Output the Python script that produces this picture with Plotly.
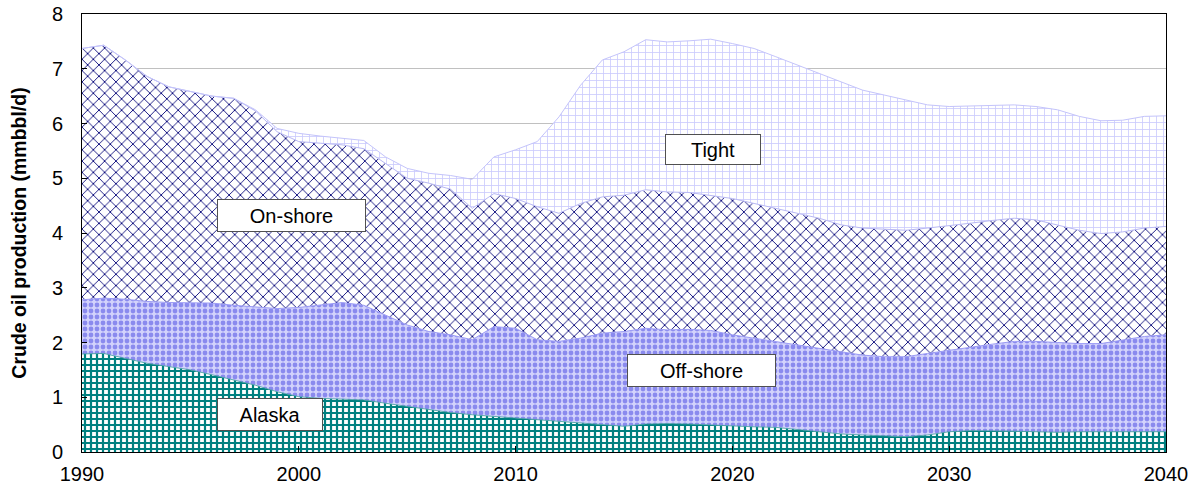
import plotly.graph_objects as go

years = list(range(1990, 2041))

alaska = [1.79, 1.80, 1.71, 1.62, 1.56, 1.50, 1.41, 1.32, 1.22, 1.10,
          1.01, 0.98, 0.96, 0.95, 0.89, 0.83, 0.77, 0.72, 0.68, 0.65,
          0.61, 0.58, 0.55, 0.52, 0.49, 0.47, 0.51, 0.52, 0.51, 0.49,
          0.47, 0.46, 0.45, 0.41, 0.38, 0.33, 0.31, 0.29, 0.28, 0.31,
          0.37, 0.39, 0.39, 0.38, 0.37, 0.36, 0.37, 0.37, 0.37, 0.37,
          0.37]

offshore = [0.99, 1.01, 1.08, 1.13, 1.17, 1.23, 1.31, 1.36, 1.43, 1.52,
            1.63, 1.71, 1.77, 1.73, 1.61, 1.49, 1.43, 1.42, 1.37, 1.64,
            1.65, 1.47, 1.47, 1.56, 1.68, 1.73, 1.75, 1.71, 1.73, 1.73,
            1.67, 1.62, 1.57, 1.54, 1.51, 1.50, 1.46, 1.45, 1.46, 1.49,
            1.49, 1.53, 1.58, 1.64, 1.65, 1.64, 1.61, 1.61, 1.68, 1.74,
            1.77]

onshore = [4.59, 4.62, 4.37, 4.11, 3.94, 3.85, 3.78, 3.78, 3.58, 3.23,
           3.03, 2.95, 2.88, 2.86, 2.77, 2.68, 2.71, 2.66, 2.40, 2.43,
           2.37, 2.43, 2.34, 2.46, 2.49, 2.49, 2.53, 2.52, 2.50, 2.47,
           2.49, 2.46, 2.43, 2.41, 2.38, 2.32, 2.32, 2.33, 2.31, 2.29,
           2.27, 2.26, 2.26, 2.25, 2.22, 2.15, 2.07, 2.01, 1.97, 1.98,
           1.98]

tight = [0.00, 0.00, 0.00, 0.00, 0.00, 0.00, 0.00, 0.00, 0.02, 0.06,
         0.15, 0.13, 0.12, 0.15, 0.12, 0.18, 0.18, 0.25, 0.53, 0.67,
         0.89, 1.19, 1.76, 2.16, 2.50, 2.62, 2.74, 2.74, 2.77, 2.85,
         2.83, 2.83, 2.77, 2.71, 2.65, 2.61, 2.52, 2.45, 2.38, 2.25,
         2.18, 2.14, 2.10, 2.07, 2.07, 2.10, 2.08, 2.06, 2.04, 2.04,
         2.02]

# label boxes: text, x (year), y (mmbbl/d), box width, box height
labels = ["Alaska", "Off-shore", "On-shore", "Tight"]
label_x = [1998.67, 2018.57, 1999.66, 2019.1]
label_y = [0.685, 1.49, 4.32, 5.52]
label_w = [102, 145, 145, 92]
label_h = [29, 29, 29, 27]

FONT = "Arial, Liberation Sans, sans-serif"

fig = go.Figure()

fig.add_trace(go.Scatter(
    x=years, y=alaska, name="Alaska", stackgroup="one", mode="lines",
    line=dict(color="#3a9a9a", width=0.8),
    fillpattern=dict(shape="+", fgcolor="#008080", bgcolor="#ffffff",
                     size=6, solidity=0.6, fillmode="replace")))

fig.add_trace(go.Scatter(
    x=years, y=offshore, name="Off-shore", stackgroup="one", mode="lines",
    line=dict(color="#9a9af5", width=1),
    fillpattern=dict(shape=".", fgcolor="#8a8aee", bgcolor="#d2d2fc",
                     size=6, solidity=0.5, fillmode="replace")))

fig.add_trace(go.Scatter(
    x=years, y=onshore, name="On-shore", stackgroup="one", mode="lines",
    line=dict(color="#b8b8f4", width=1),
    fillpattern=dict(shape="x", fgcolor="#10107e", bgcolor="#ffffff",
                     size=8, solidity=0.22, fillmode="replace")))

fig.add_trace(go.Scatter(
    x=years, y=tight, name="Tight", stackgroup="one", mode="lines",
    line=dict(color="#c4c4fb", width=1),
    fillpattern=dict(shape="+", fgcolor="#cacafc", bgcolor="#ffffff",
                     size=7, solidity=0.22, fillmode="replace")))

for i in range(len(labels)):
    fig.add_annotation(
        x=label_x[i], y=label_y[i], text=labels[i], showarrow=False,
        xref="x", yref="y", width=label_w[i], height=label_h[i],
        bgcolor="#ffffff", bordercolor="#505050", borderwidth=1, borderpad=1,
        font=dict(family=FONT, size=20, color="#000000"))

fig.update_xaxes(
    range=[1990, 2040], tickvals=[1990, 2000, 2010, 2020, 2030, 2040],
    showgrid=False, zeroline=False, automargin=False,
    showline=True, linecolor="#000000", linewidth=1, mirror=True,
    ticks="inside", ticklen=6, tickcolor="#000000", ticklabelstandoff=4,
    ticklabeloverflow="allow",
    tickfont=dict(family=FONT, size=20, color="#000000"))

fig.update_yaxes(
    range=[0, 8], dtick=1, automargin=False,
    showgrid=True, gridcolor="#c0c0c0", gridwidth=1, zeroline=False,
    showline=True, linecolor="#000000", linewidth=1, mirror=True,
    ticks="inside", ticklen=5, tickcolor="#000000", ticklabelstandoff=14,
    ticklabeloverflow="allow",
    tickfont=dict(family=FONT, size=20, color="#000000"),
    title=dict(text="<b>Crude oil production (mmbbl/d)</b>", standoff=20,
               font=dict(family=FONT, size=19.5, color="#000000")))

fig.update_layout(
    width=1196, height=497,
    margin=dict(l=82, r=30, t=14, b=45),
    paper_bgcolor="#ffffff", plot_bgcolor="#ffffff",
    showlegend=False)

# drop the browser's default 8px body margin so the figure sits at 0,0
fig.write_html("out.html", config={"displayModeBar": False},
               post_script="document.body.style.margin = '0';")
